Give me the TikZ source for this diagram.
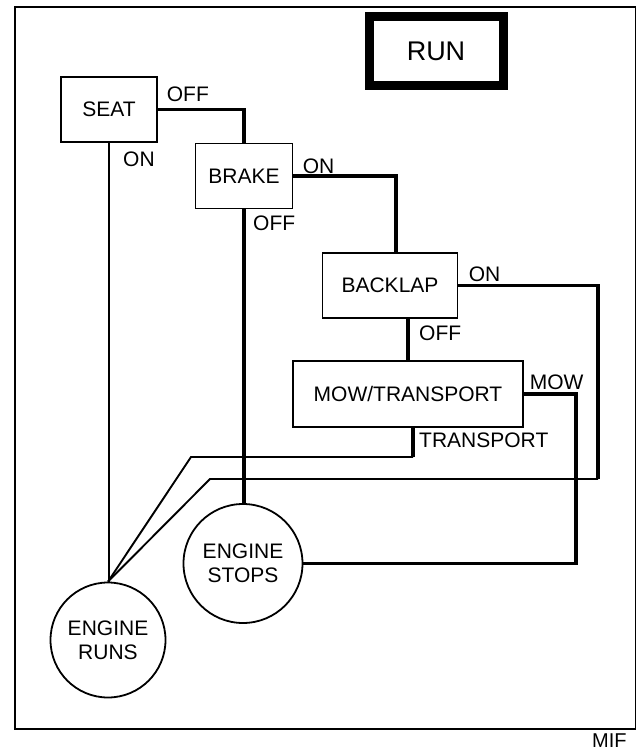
\documentclass[tikz,border=0pt]{standalone}
\usepackage{fontspec}
\setmainfont{Liberation Sans}
\usetikzlibrary{positioning,calc}

\begin{document}
\begin{tikzpicture}[x=1pt, y=-1pt,
    statebox/.style={rectangle, draw, line width=1.3pt, minimum height=65pt, align=center, font=\fontsize{21}{24}\selectfont},
    endstate/.style={circle, draw, line width=1.8pt, inner sep=0pt, align=center, font=\fontsize{21}{24}\selectfont},
    runbox/.style={rectangle, draw, line width=9pt, minimum width=134pt, minimum height=69pt, font=\fontsize{27}{30}\selectfont},
    lbl/.style={anchor=base west, inner sep=0pt, font=\fontsize{21}{24}\selectfont},
    bus/.style={line width=3.6pt},
    wire/.style={line width=1.9pt}
  ]
    \useasboundingbox (0,0) rectangle (643,751);
    \draw[line width=1.6pt] (15,7) rectangle (635.5,729);

    \node[runbox] (run) at (436,51.5) {RUN};
    \node[statebox, minimum width=96pt] (seat) at (109,109.5) {SEAT};
    \node[statebox, minimum width=97pt] (brake) at (244,176) {BRAKE};
    \node[statebox, minimum width=135pt] (backlap) at (390,285.5) {BACKLAP};
    \node[statebox, minimum width=230pt, minimum height=66pt] (mow) at (408,394) {MOW/TRANSPORT};
    \node[endstate, minimum size=119pt] (stops) at (243,563.5) {ENGINE\\STOPS};
    \node[endstate, minimum size=115pt] (runs) at (108,640) {ENGINE\\RUNS};

    % bends of the long connectors
    \coordinate (onturn) at (598,479);
    \coordinate (onknee) at (210,479);
    \coordinate (trturn) at (413,457);
    \coordinate (trknee) at (191,457);
    \coordinate (mowturn) at (576,563.5);

    \draw[bus] (seat.east) -| (brake.north);
    \draw[wire] (seat.south) -- (seat.south |- runs.north);
    \draw[bus] (brake.east) -| ([xshift=6pt]backlap.north);
    \draw[bus] (brake.south) -- (brake.south |- stops.north);
    \draw[bus] (backlap.east) -| (onturn);
    \draw[wire] (onturn) -- (onknee) -- (runs.north);
    \draw[bus] (backlap.south -| mow.north) -- (mow.north);
    \draw[bus] (mow.east) -| (mowturn) -- (stops.east);
    \draw[bus] ([xshift=5pt]mow.south) -- (trturn);
    \draw[wire] (trturn) -- (trknee) -- (runs.north);

    \node[lbl] (seatoff) at ([shift={(9,-7.5)}]seat.east) {OFF};
    \node[lbl] (seaton) at ([shift={(14,23.7)}]seat.south) {ON};
    \node[lbl] (brakeon) at ([shift={(9.5,-2.7)}]brake.east) {ON};
    \node[lbl] (brakeoff) at ([shift={(9,21.5)}]brake.south) {OFF};
    \node[lbl] (backlapon) at ([shift={(10.5,-4.5)}]backlap.east) {ON};
    \node[lbl] (backlapoff) at ([shift={(11,22)}]backlap.south -| mow.north) {OFF};
    \node[lbl] (mowlbl) at ([shift={(6,-4.7)}]mow.east) {MOW};
    \node[lbl] (translbl) at ([shift={(11,20.3)}]mow.south) {TRANSPORT};
    \node[lbl, font=\fontsize{20}{24}\selectfont] (mif) at (592,747.5) {MIF};
  \end{tikzpicture}
\end{document}
